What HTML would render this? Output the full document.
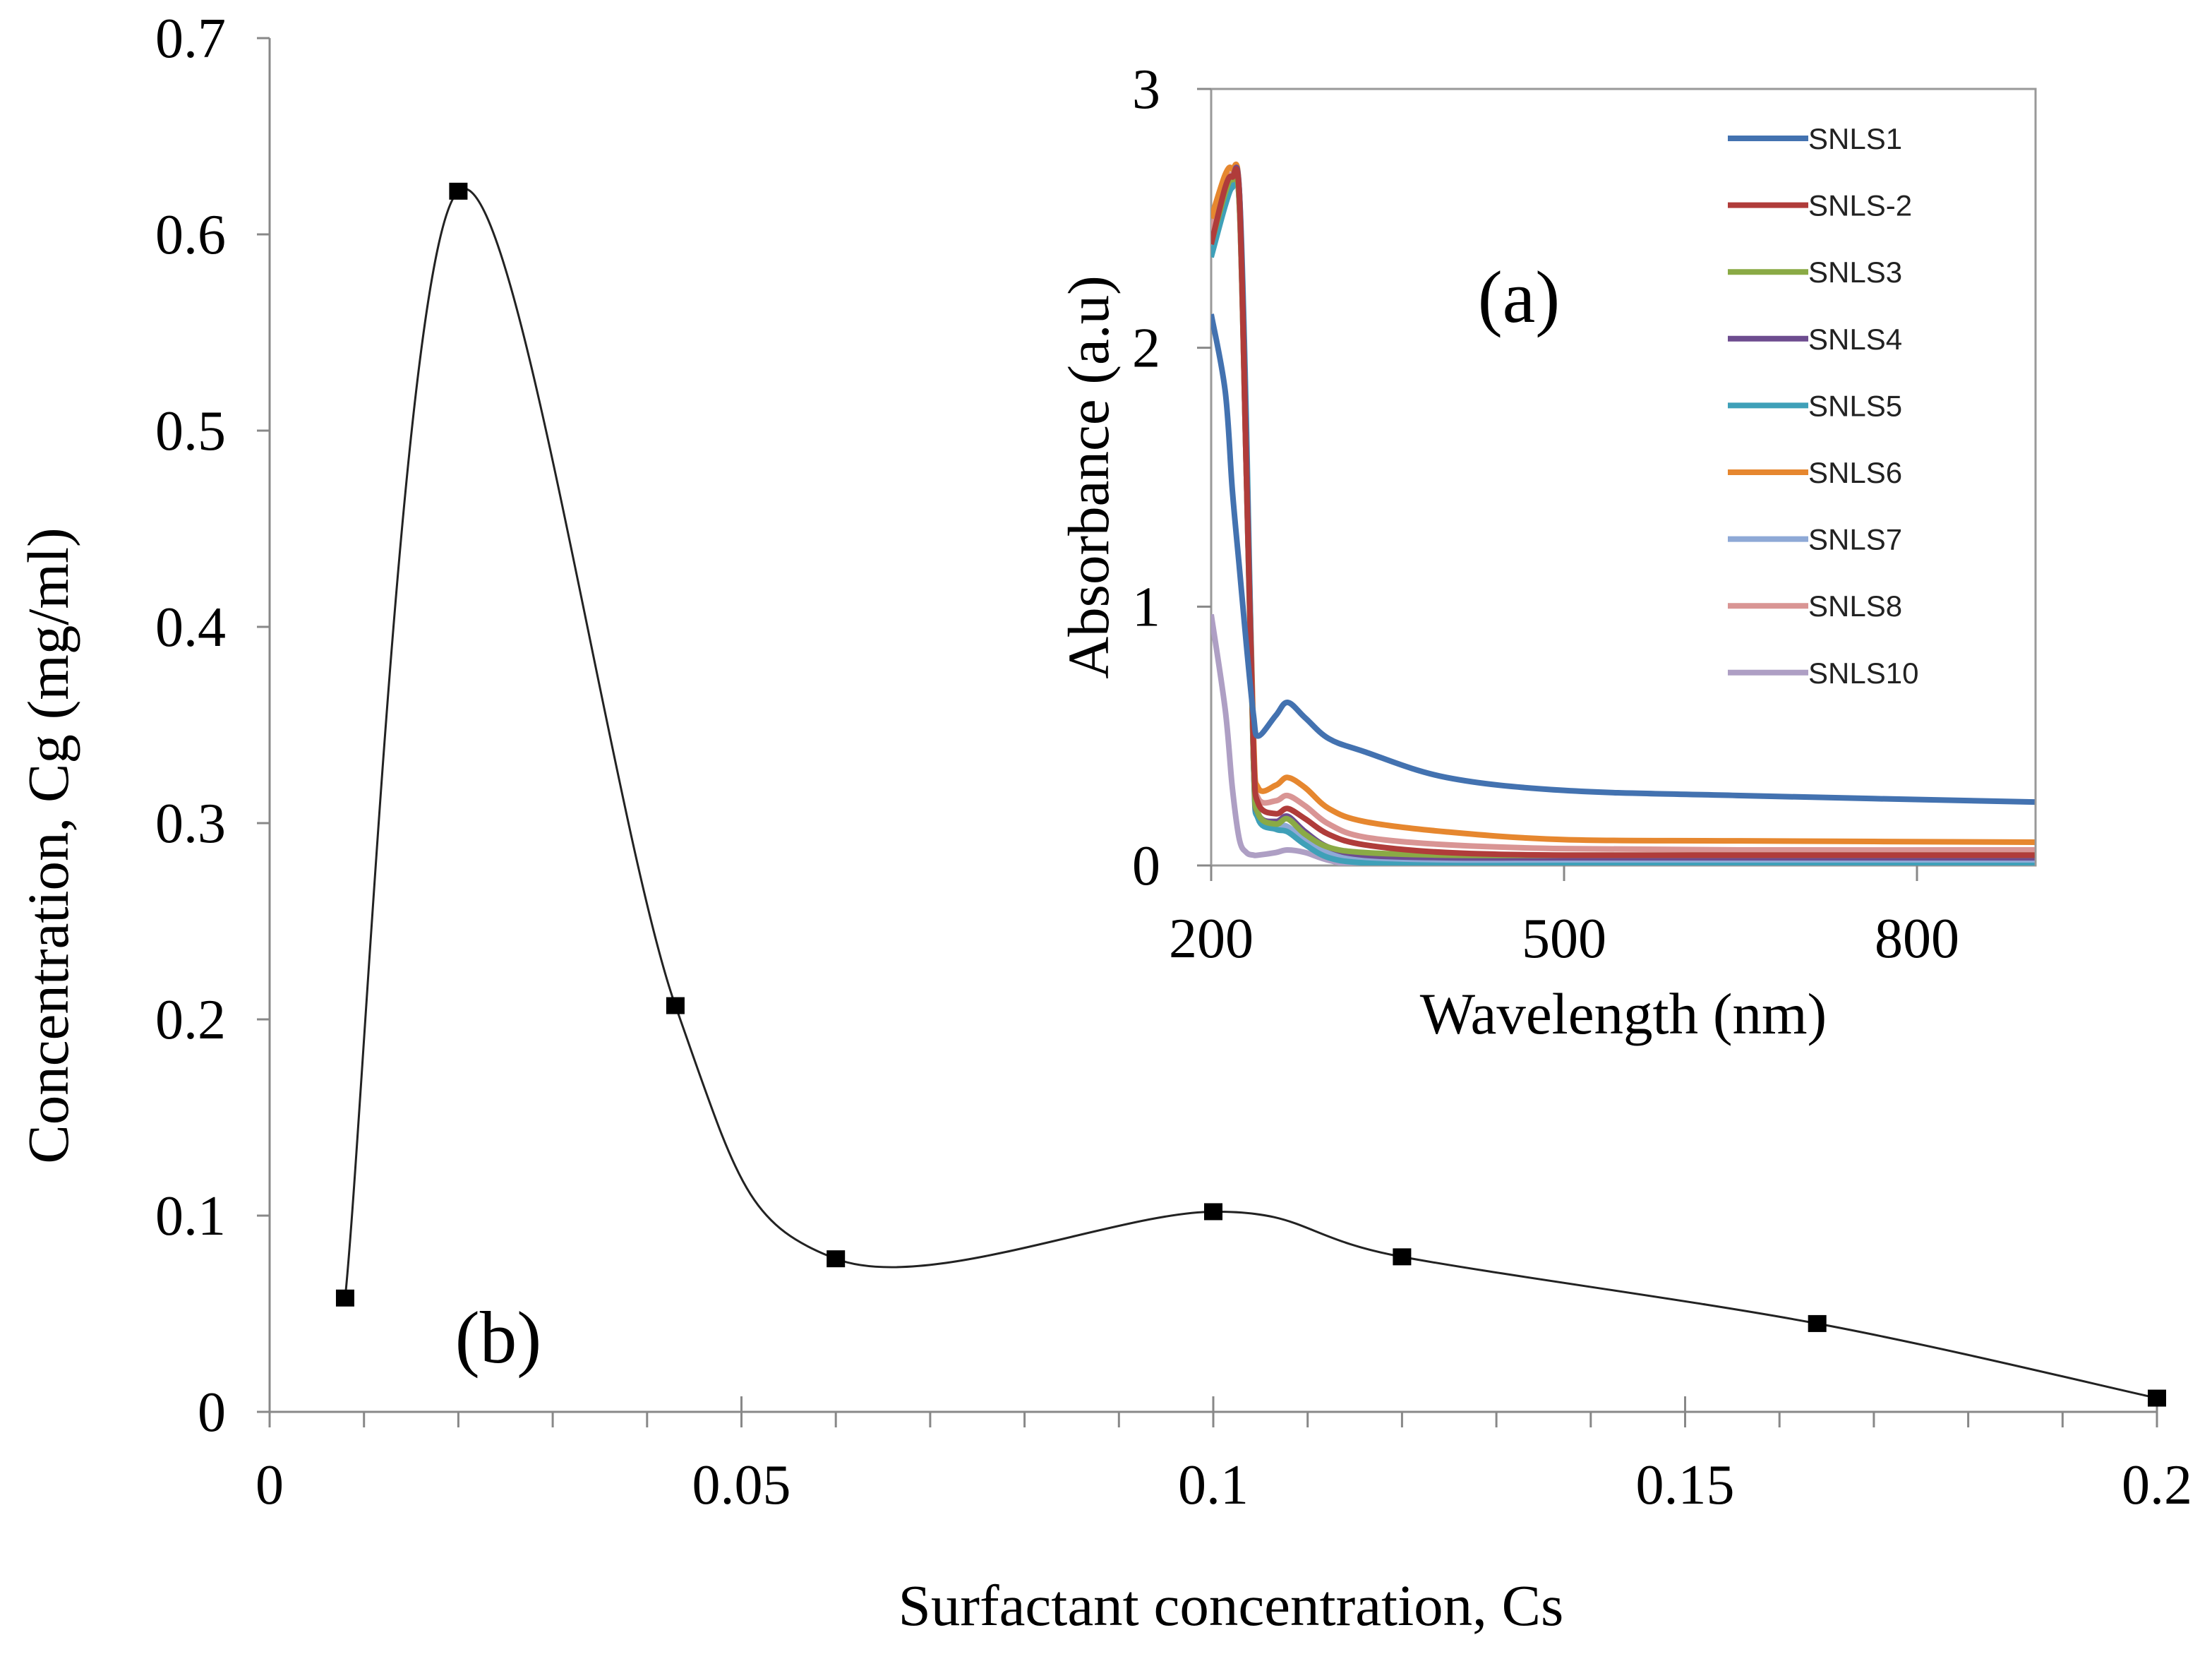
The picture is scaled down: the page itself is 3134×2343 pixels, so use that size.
<!DOCTYPE html>
<html><head><meta charset="utf-8"><style>
html,body{margin:0;padding:0;background:#fff}
svg{display:block}
text{font-family:"Liberation Serif",serif;fill:#000}
.leg{font-family:"Liberation Sans",sans-serif;font-size:42px;fill:#222}
</style></head><body>
<svg id="chart" width="3134" height="2343" viewBox="0 0 3134 2343" xmlns="http://www.w3.org/2000/svg">
<g id="main"></g>
<g id="inset"></g>
</svg>
<script>
// Main chart data
const csValues = [0.008, 0.02, 0.043, 0.06, 0.1, 0.12, 0.164, 0.2];
const cgValues = [0.058, 0.622, 0.207, 0.078, 0.102, 0.079, 0.045, 0.007];
const mainXTicks = [0, 0.05, 0.1, 0.15, 0.2];
const mainXTickLabels = ["0", "0.05", "0.1", "0.15", "0.2"];
const mainYTicks = [0, 0.1, 0.2, 0.3, 0.4, 0.5, 0.6, 0.7];
const mainYTickLabels = ["0", "0.1", "0.2", "0.3", "0.4", "0.5", "0.6", "0.7"];

// Inset data
const wavelengths = [200, 212, 218, 224, 230, 236, 240, 255, 265, 280, 300, 330, 400, 500, 650, 900];
const seriesNames = ["SNLS1","SNLS-2","SNLS3","SNLS4","SNLS5","SNLS6","SNLS7","SNLS8","SNLS10"];
const seriesColors = ["#4372b0","#b03c3a","#8aaa45","#6d4c8f","#3fa0b8","#e6872f","#8ea9d6","#d99594","#ae9fc4"];
const snls1 = [2.13,1.83,1.45,1.15,0.85,0.58,0.5,0.58,0.63,0.57,0.49,0.44,0.34,0.29,0.27,0.245];
const snls2 = [2.4,2.62,2.66,2.58,1.5,0.45,0.24,0.2,0.22,0.18,0.12,0.08,0.05,0.04,0.04,0.04];
const snls3 = [2.4,2.6,2.65,2.55,1.5,0.4,0.2,0.16,0.18,0.12,0.07,0.05,0.04,0.04,0.04,0.04];
const snls4 = [2.4,2.62,2.66,2.6,1.6,0.4,0.2,0.17,0.19,0.13,0.07,0.04,0.03,0.03,0.03,0.03];
const snls5 = [2.35,2.55,2.62,2.6,1.7,0.4,0.18,0.14,0.13,0.08,0.03,0.01,0,0,0,0];
const snls6 = [2.5,2.67,2.69,2.6,1.6,0.5,0.3,0.31,0.34,0.3,0.22,0.17,0.13,0.1,0.095,0.09];
const snls7 = [2.38,2.58,2.62,2.55,1.5,0.4,0.2,0.16,0.15,0.1,0.05,0.03,0.02,0.02,0.02,0.02];
const snls8 = [2.45,2.64,2.66,2.55,1.5,0.45,0.26,0.25,0.27,0.23,0.16,0.11,0.08,0.065,0.06,0.06];
const snls10 = [0.97,0.6,0.3,0.1,0.05,0.04,0.04,0.05,0.06,0.05,0.02,0,0,0,0,0];
const seriesValues = [snls1,snls2,snls3,snls4,snls5,snls6,snls7,snls8,snls10];
const insetXTicks = [200, 500, 800];
const insetYTicks = [0, 1, 2, 3];

const NS = "http://www.w3.org/2000/svg";
function mk(parent, tag, attrs, txt){
  const e = document.createElementNS(NS, tag);
  for (const k in attrs) e.setAttribute(k, attrs[k]);
  if (txt !== undefined) e.textContent = txt;
  parent.appendChild(e); return e;
}
function smoothPath(pts){
  let d = "M" + pts[0][0] + "," + pts[0][1];
  for (let i = 0; i < pts.length - 1; i++){
    const p0 = pts[i-1] || pts[i], p1 = pts[i], p2 = pts[i+1], p3 = pts[i+2] || p2;
    const c1 = [p1[0] + (p2[0]-p0[0])/6, p1[1] + (p2[1]-p0[1])/6];
    const c2 = [p2[0] - (p3[0]-p1[0])/6, p2[1] - (p3[1]-p1[1])/6];
    d += " C" + c1[0] + "," + c1[1] + " " + c2[0] + "," + c2[1] + " " + p2[0] + "," + p2[1];
  }
  return d;
}

// ---- Main chart ----
const main = document.getElementById('main');
const X0 = 382, X1 = 3056, Y0 = 2000, Y1 = 54;
const mx = v => X0 + v / 0.2 * (X1 - X0);
const my = v => Y0 - v / 0.7 * (Y0 - Y1);
let e;
e = mk(main, 'line', {x1:X0, y1:Y1, x2:X0, y2:Y0, stroke:'#888', 'stroke-width':3});


e = mk(main, 'line', {x1:X0, y1:Y0, x2:X1, y2:Y0, stroke:'#888', 'stroke-width':3});


mainYTicks.forEach((t, i) => {
  mk(main, 'line', {x1:X0-18, y1:my(t), x2:X0, y2:my(t), stroke:'#888', 'stroke-width':3});
  const l = mk(main, 'text', {x:320, y:my(t)+27, 'text-anchor':'end', 'font-size':80}, mainYTickLabels[i]);
  
  
});
for (let k = 0; k <= 20; k++){
  const v = k * 0.01, major = k % 5 === 0;
  mk(main, 'line', {x1:mx(v), y1:major ? Y0-22 : Y0, x2:mx(v), y2:Y0+22, stroke:'#888', 'stroke-width':3});
}
mainXTicks.forEach((t, i) => {
  const l = mk(main, 'text', {x:mx(t), y:2130, 'text-anchor':'middle', 'font-size':80}, mainXTickLabels[i]);
  
  
});
const mpts = csValues.map((c, i) => [mx(c), my(cgValues[i])]);
e = mk(main, 'path', {d:smoothPath(mpts), fill:'none', stroke:'#222', 'stroke-width':3});


mpts.forEach(p => {
  const r = mk(main, 'rect', {x:p[0]-13, y:p[1]-12, width:26, height:24, fill:'#000'});
  
  
});
e = mk(main, 'text', {x:1744, y:2302, 'text-anchor':'middle', 'font-size':83}, 'Surfactant concentration, Cs');


e = mk(main, 'text', {x:0, y:0, 'text-anchor':'middle', 'font-size':83, transform:'translate(96,1198) rotate(-90)'}, 'Concentration,  Cg (mg/ml)');


e = mk(main, 'text', {x:706, y:1930, 'text-anchor':'middle', 'font-size':105}, '(b)');



// ---- Inset ----
const ins = document.getElementById('inset');
const IX0 = 1716, IX1 = 2884, IY0 = 1226, IY1 = 126;
const ix = w => IX0 + (w - 200) / 300 * 500;
const iy = a => IY0 - a / 3 * (IY0 - IY1);
mk(ins, 'rect', {x:IX0, y:IY1, width:IX1-IX0, height:IY0-IY1, fill:'#fff', stroke:'#999', 'stroke-width':3});
mk(ins, 'clipPath', {id:'iclip'}).appendChild(document.createElementNS(NS,'rect'));
const cr = ins.querySelector('#iclip rect');
cr.setAttribute('x', IX0); cr.setAttribute('y', IY1); cr.setAttribute('width', IX1-IX0); cr.setAttribute('height', IY0-IY1);
insetYTicks.forEach(t => {
  mk(ins, 'line', {x1:IX0-20, y1:iy(t), x2:IX0, y2:iy(t), stroke:'#888', 'stroke-width':3});
  const l = mk(ins, 'text', {x:1644, y:iy(t)+27, 'text-anchor':'end', 'font-size':80}, String(t));
  
  
});
insetXTicks.forEach(t => {
  mk(ins, 'line', {x1:ix(t), y1:IY0, x2:ix(t), y2:IY0+22, stroke:'#888', 'stroke-width':3});
  const l = mk(ins, 'text', {x:ix(t), y:1356, 'text-anchor':'middle', 'font-size':80}, String(t));
  
  
});
const cg = mk(ins, 'g', {'clip-path':'url(#iclip)'});
for (let s = seriesValues.length - 1; s >= 0; s--){
  const pts = wavelengths.map((w, i) => [ix(w), iy(seriesValues[s][i])]);
  const p = mk(cg, 'path', {d:smoothPath(pts), fill:'none', stroke:seriesColors[s], 'stroke-width':8, 'stroke-linejoin':'round'});
  
  
}
seriesNames.forEach((n, i) => {
  const y = 196 + i * 94.6;
  const g = mk(ins, 'g', {});
  
  
  mk(g, 'line', {x1:2448, y1:y, x2:2562, y2:y, stroke:seriesColors[i], 'stroke-width':8});
  mk(g, 'text', {x:2562, y:y+15, class:'leg'}, n);
});
e = mk(ins, 'text', {x:2152, y:456, 'text-anchor':'middle', 'font-size':105}, '(a)');


e = mk(ins, 'text', {x:2300, y:1464, 'text-anchor':'middle', 'font-size':83}, 'Wavelength  (nm)');


e = mk(ins, 'text', {x:0, y:0, 'text-anchor':'middle', 'font-size':83, transform:'translate(1570,676) rotate(-90)'}, 'Absorbance  (a.u)');


</script>
</body></html>
